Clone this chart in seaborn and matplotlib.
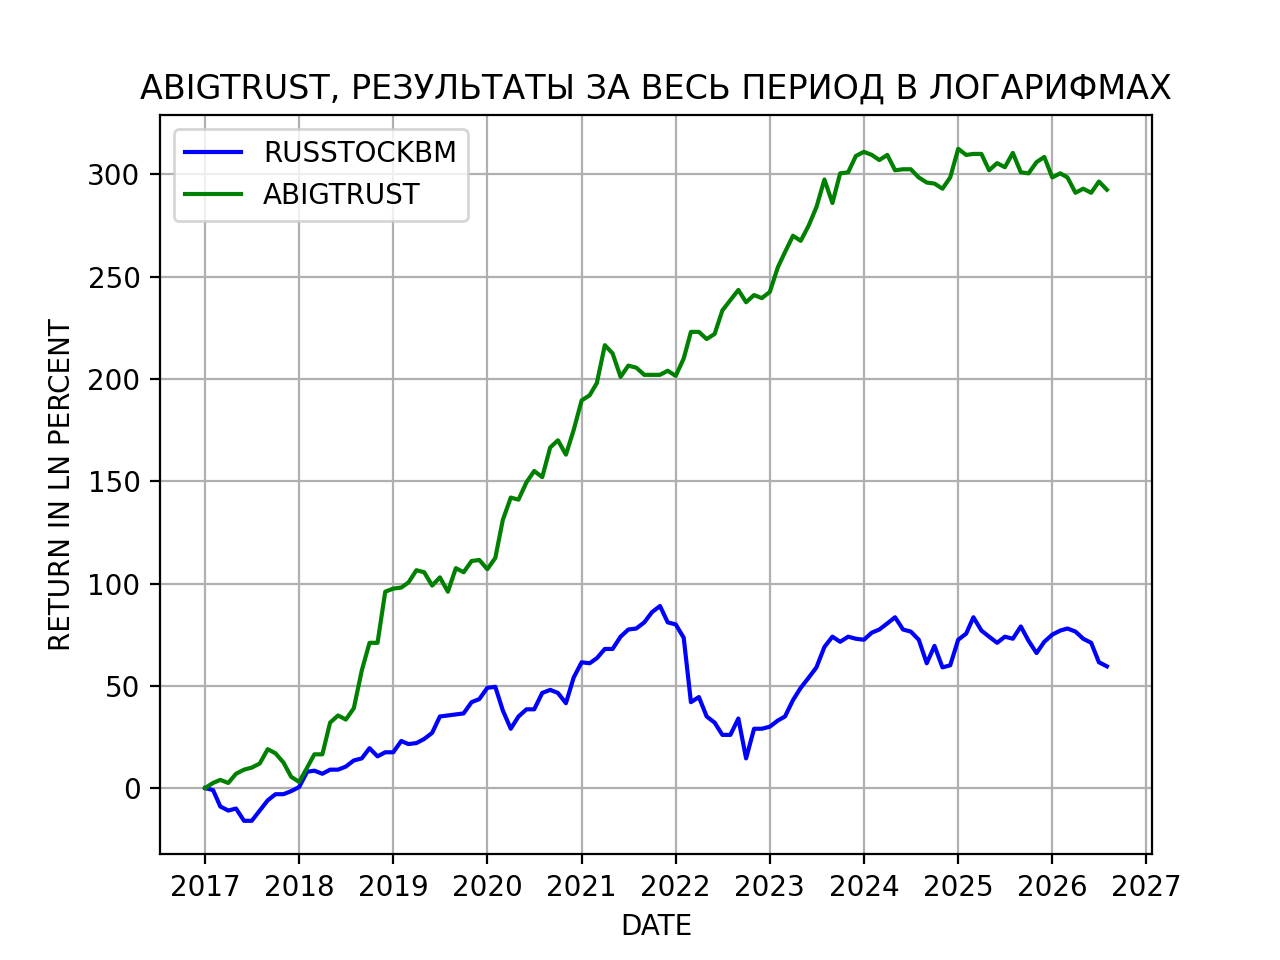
import numpy as np
import pandas as pd
import seaborn as sns
import matplotlib
matplotlib.use("Agg")
import matplotlib.pyplot as plt
import matplotlib.dates as mdates

# monthly values, Jan 2017 .. Aug 2026
start_month = "2017-01-01"

russtockbm = [
    0, -1, -9, -11, -10, -16, -16, -11, -6, -3, -3, -1.5,
    0.5, 8, 8.5, 7, 9, 9, 10.5, 13.5, 14.5, 19.5, 15.5, 17.5,
    17.5, 23, 21.5, 22, 24, 27, 35, 35.5, 36, 36.5, 42, 43.5,
    49, 49.5, 38, 29, 35, 38.5, 38.5, 46.5, 48, 46.5, 41.5, 54,
    61.5, 61, 63.5, 68, 68, 74, 77.5, 78, 81, 86, 89, 81,
    80, 73.5, 42, 44.5, 35, 32, 26, 26, 34, 14.5, 29, 29,
    30, 33, 35, 43, 49, 54, 59, 69, 74, 71.5, 74, 73,
    72.5, 76, 77.5, 80.5, 83.5, 77.5, 76.5, 72.5, 61, 69.5, 59, 60,
    72.5, 75.5, 83.5, 77, 74, 71, 74, 73, 79, 72, 66, 71.5,
    75, 77, 78, 76.5, 73, 71, 61.5, 59.5,
]

abigtrust = [
    0, 2.5, 4, 2.5, 7, 9, 10, 12, 19, 17, 12.5, 5.5,
    3, 10, 16.5, 16.5, 32, 35.5, 33.5, 39, 57.5, 71, 71, 96,
    97.5, 98, 100.5, 106.5, 105.5, 99, 103, 96, 107.5, 105.5, 111, 111.5,
    107, 112.5, 131, 142, 141, 149.5, 155, 152, 166.5, 170, 163, 175,
    189.5, 192, 198, 216.5, 212.5, 201, 206.5, 205.5, 202, 202, 202, 204,
    201.5, 210, 223, 223, 219.5, 222, 233.5, 238.5, 243.5, 237.5, 241, 239.5,
    242.5, 254.5, 262, 270, 267.5, 275, 284, 297.5, 286, 300.5, 301, 309,
    311, 309.5, 307, 309.5, 302, 302.5, 302.5, 298.5, 296, 295.5, 293, 298.5,
    312.5, 309.5, 310, 310, 302, 305.5, 303.5, 310.5, 301, 300.5, 306, 308.5,
    298.5, 300.5, 298.5, 291, 293, 291, 296.5, 292.5,
]

dates = pd.date_range(start_month, periods=len(russtockbm), freq="MS")

df = pd.DataFrame({
    "date": dates,
    "RUSSTOCKBM": russtockbm,
    "ABIGTRUST": abigtrust,
})

fig, ax = plt.subplots(figsize=(6.4, 4.8), dpi=200)
sns.lineplot(data=df, x="date", y="RUSSTOCKBM", color="blue", label="RUSSTOCKBM", ax=ax)
sns.lineplot(data=df, x="date", y="ABIGTRUST", color="green", label="ABIGTRUST", ax=ax)

ax.xaxis.set_major_locator(mdates.YearLocator(1))
ax.xaxis.set_major_formatter(mdates.DateFormatter("%Y"))
ax.grid(True)
ax.set_title("ABIGTRUST, РЕЗУЛЬТАТЫ ЗА ВЕСЬ ПЕРИОД В ЛОГАРИФМАХ")
ax.set_xlabel("DATE")
ax.set_ylabel("RETURN IN LN PERCENT")
ax.legend(loc="upper left")

fig.savefig("out.png", dpi=200)
